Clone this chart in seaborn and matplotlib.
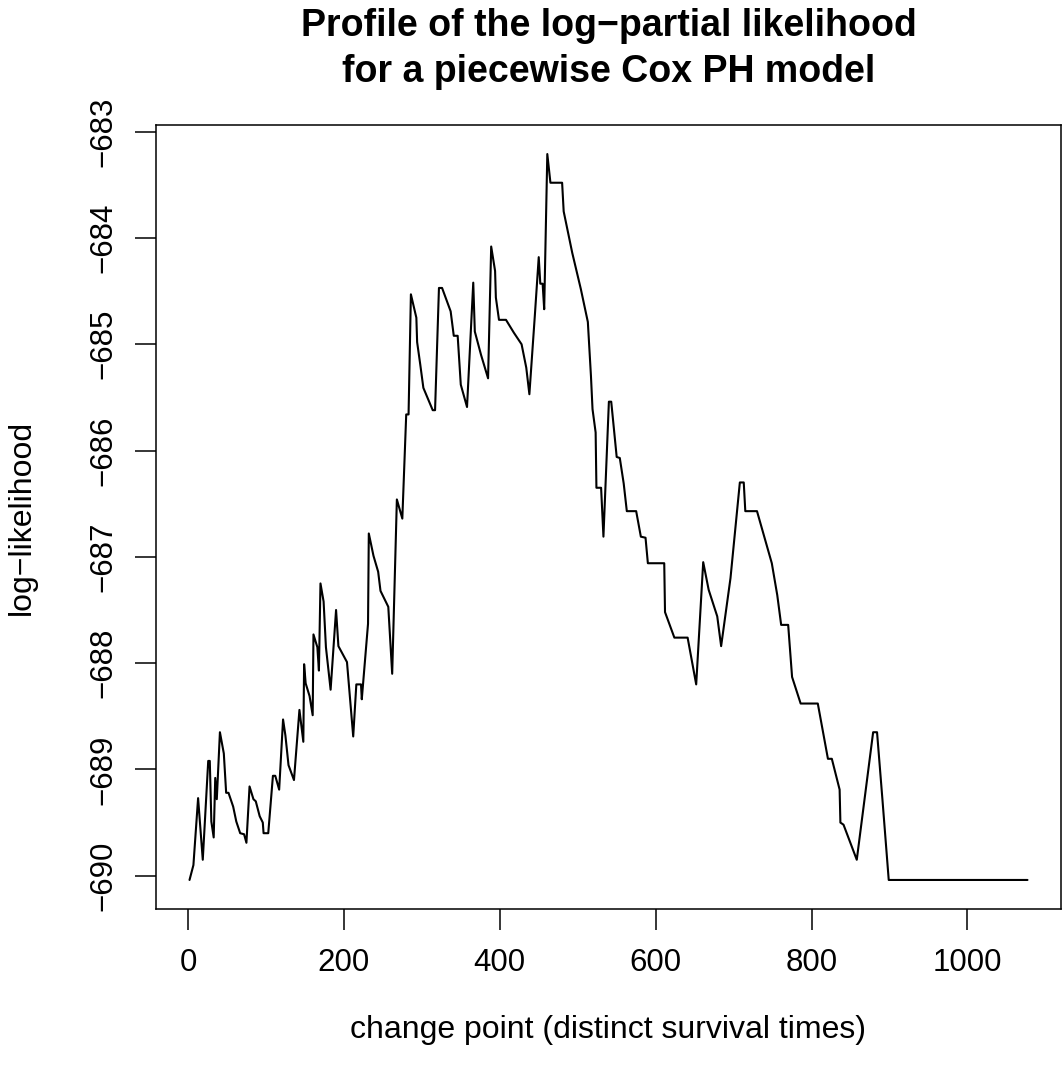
import matplotlib
matplotlib.use("Agg")
import matplotlib.pyplot as plt
import seaborn as sns
import numpy as np
import pandas as pd

# change point index (distinct survival times)
change_point = [2, 7, 13, 19, 26, 28, 30, 33, 35, 37, 41, 46, 49, 52, 58, 62, 67, 72, 75, 79,
                84, 87, 92, 96, 97, 103, 109, 112, 117, 122, 125, 129, 136, 143, 148, 149, 151,
                156, 160, 161, 166, 168, 170, 174, 177, 183, 190, 193, 204, 209, 212, 216, 222,
                223, 231, 232, 238, 244, 247, 257, 262, 268, 275, 280, 283, 286, 293, 294, 298,
                302, 314, 317, 322, 326, 337, 341, 346, 350, 358, 366, 368, 376, 385, 389, 394,
                395, 399, 408, 418, 428, 434, 438, 445, 450, 452, 455, 457, 461, 465, 480, 482,
                493, 504, 513, 517, 519, 523, 524, 530, 533, 540, 543, 550, 554, 559, 563, 575,
                581, 587, 590, 611, 612, 624, 641, 652, 661, 668, 679, 684, 696, 708, 713, 715,
                730, 749, 756, 761, 770, 775, 786, 808, 821, 826, 836, 837, 841, 858, 879, 884,
                891, 899, 1077]

# profile log-partial likelihood
log_lik = [-690.04, -689.90, -689.27, -689.85, -688.92, -688.92, -689.49, -689.64, -689.08,
           -689.28, -688.65, -688.85, -689.22, -689.22, -689.35, -689.49, -689.60, -689.61,
           -689.69, -689.16, -689.28, -689.30, -689.44, -689.50, -689.60, -689.60, -689.06,
           -689.06, -689.19, -688.53, -688.68, -688.96, -689.10, -688.44, -688.74, -688.01,
           -688.19, -688.31, -688.49, -687.73, -687.85, -688.07, -687.25, -687.42, -687.85,
           -688.25, -687.50, -687.84, -687.99, -688.42, -688.69, -688.20, -688.20, -688.34,
           -687.63, -686.78, -686.99, -687.14, -687.32, -687.47, -688.10, -686.46, -686.64,
           -685.66, -685.66, -684.53, -684.75, -684.98, -685.19, -685.41, -685.62, -685.62,
           -684.47, -684.47, -684.69, -684.92, -684.92, -685.38, -685.59, -684.42, -684.88,
           -685.10, -685.32, -684.08, -684.31, -684.56, -684.77, -684.77, -684.89, -685.00,
           -685.22, -685.47, -684.73, -684.18, -684.43, -684.43, -684.67, -683.21, -683.48,
           -683.48, -683.75, -684.14, -684.48, -684.79, -685.30, -685.61, -685.83, -686.35,
           -686.35, -686.81, -685.54, -685.54, -686.06, -686.07, -686.31, -686.57, -686.57,
           -686.81, -686.82, -687.06, -687.06, -687.52, -687.76, -687.76, -688.20, -687.05,
           -687.31, -687.56, -687.84, -687.20, -686.30, -686.30, -686.57, -686.57, -687.06,
           -687.36, -687.64, -687.64, -688.13, -688.38, -688.38, -688.90, -688.90, -689.19,
           -689.50, -689.52, -689.85, -688.65, -688.65, -689.29, -690.04, -690.04]

x_ticks = [0, 200, 400, 600, 800, 1000]
y_ticks = [-690, -689, -688, -687, -686, -685, -684, -683]

title_lines = ["Profile of the log\u2212partial likelihood", "for a piecewise Cox PH model"]
x_label = "change point (distinct survival times)"
y_label = "log\u2212likelihood"

df = pd.DataFrame({"cp": change_point, "ll": log_lik})

sns.set_theme(style="ticks")
plt.rcParams["font.family"] = ["Liberation Sans", "DejaVu Sans"]
plt.rcParams["axes.unicode_minus"] = True

W, H = 1063, 1070
fig = plt.figure(figsize=(W / 100, H / 100), dpi=100)
fig.patch.set_facecolor("white")
left, right, top, bottom = 156, 1061, 125, 909
ax = fig.add_axes([left / W, 1 - bottom / H, (right - left) / W, (bottom - top) / H])

sns.lineplot(data=df, x="cp", y="ll", ax=ax, color="black", linewidth=1.5,
             estimator=None, sort=False)

xr = max(change_point) - min(change_point)
yr = max(log_lik) - min(log_lik)
ax.set_xlim(min(change_point) - 0.04 * xr, max(change_point) + 0.04 * xr)
ax.set_ylim(min(log_lik) - 0.04 * yr, max(log_lik) + 0.04 * yr)

ax.set_xticks(x_ticks)
ax.set_yticks(y_ticks)
ax.set_xticklabels([str(t) for t in x_ticks])
ax.set_yticklabels([str(t).replace("-", "\u2212") for t in y_ticks], rotation=90, va="center")
ax.tick_params(axis="both", direction="out", length=15, width=1.1, color="black",
               labelsize=22.5, labelcolor="black")
ax.tick_params(axis="x", pad=13)
ax.tick_params(axis="y", pad=12)
for s in ax.spines.values():
    s.set_visible(True)
    s.set_color("black")
    s.set_linewidth(1.1)
ax.set_xlabel("")
ax.set_ylabel("")
ax.set_facecolor("white")
ax.grid(False)

cx = (left + right) / 2 / W
fig.text(cx, 1 - 26 / H, title_lines[0], ha="center", va="center", fontsize=27,
         fontweight="bold", color="black")
fig.text(cx, 1 - 72 / H, title_lines[1], ha="center", va="center", fontsize=27,
         fontweight="bold", color="black")
fig.text(cx, 1 - 1030 / H, x_label, ha="center", va="center", fontsize=23, color="black")
fig.text(22 / W, 1 - ((top + bottom) / 2) / H, y_label, ha="center", va="center",
         rotation=90, fontsize=23, color="black")

fig.savefig("out.png", dpi=100, facecolor="white")
